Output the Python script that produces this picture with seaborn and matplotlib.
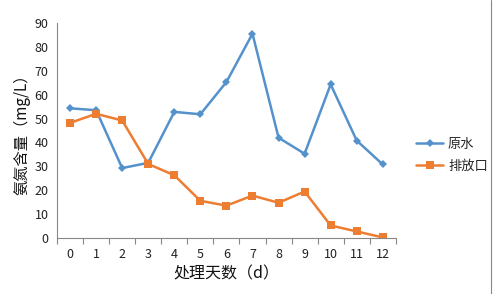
import matplotlib
matplotlib.use("Agg")
import matplotlib.pyplot as plt
import seaborn as sns
import pandas as pd
import numpy as np

days = list(range(13))
day_labels = [str(d) for d in days]
raw_water = [54.3, 53.5, 29.3, 31.5, 52.8, 51.8, 65.3, 85.5, 42.0, 35.3, 64.3, 40.8, 30.8]
outlet = [48.2, 52.0, 49.2, 31.0, 26.3, 15.6, 13.6, 17.8, 14.8, 19.5, 5.3, 2.8, 0.3]
series_names = ["原水", "排放口"]

sns.set_style("white")
plt.rcParams['font.family'] = ['Noto Sans CJK SC', 'DejaVu Sans']

df = pd.DataFrame({
    "day": days * 2,
    "value": raw_water + outlet,
    "series": [series_names[0]] * 13 + [series_names[1]] * 13,
})

fig = plt.figure(figsize=(4.96, 2.94), dpi=100)
ax = fig.add_axes([0.115, 0.19, 0.683, 0.732])
palette = {series_names[0]: "#5592CC", series_names[1]: "#ED7D31"}
sns.lineplot(data=df, x="day", y="value", hue="series", style="series",
             markers={series_names[0]: "D", series_names[1]: "s"},
             dashes=False, palette=palette, ax=ax, linewidth=1.8,
             markersize=5, markeredgewidth=0)
for line in ax.lines:
    if line.get_marker() == "D":
        line.set_markersize(4.5)
    elif line.get_marker() == "s":
        line.set_markersize(6)

ax.set_xlim(-0.5, 12.5)
ax.set_ylim(0, 90)
ax.set_yticks(range(0, 91, 10))
ax.set_xticks(days)
ax.set_xticklabels(day_labels)
ax.set_xticks(np.arange(-0.5, 13, 1), minor=True)
ax.tick_params(axis="x", which="major", length=0, pad=7, labelsize=9, colors="#222222")
ax.tick_params(axis="x", which="minor", length=4, width=0.8, color="#888888", direction="out")
ax.tick_params(axis="y", length=4, width=0.8, color="#888888", direction="out", labelsize=9, colors="#222222", pad=2)
ax.tick_params(axis="x", bottom=True, which="both")
for s in ["top", "right"]:
    ax.spines[s].set_visible(False)
for s in ["left", "bottom"]:
    ax.spines[s].set_color("#888888")
    ax.spines[s].set_linewidth(0.8)

ax.set_xlabel("处理天数（d）", fontsize=11.5, color="#111111", labelpad=3)
ax.set_ylabel("氨氮含量（mg/L）", fontsize=11, color="#111111", labelpad=3)

leg = ax.legend(loc="center left", bbox_to_anchor=(1.045, 0.385), frameon=False,
                fontsize=9.5, handlelength=2.0, handletextpad=0.4,
                labelspacing=0.7, borderaxespad=0, title=None)

fig.add_artist(plt.Line2D([0.99, 0.99], [0.0, 1.0], transform=fig.transFigure, color="#888888", linewidth=0.8))

fig.savefig("out.png", dpi=100)
